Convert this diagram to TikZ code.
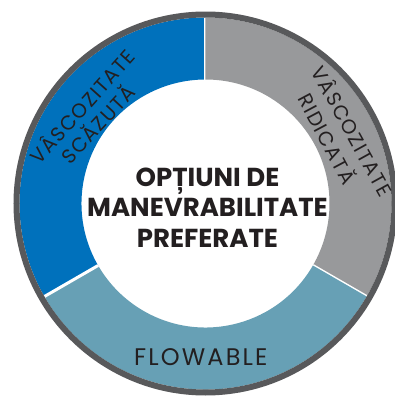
\documentclass[tikz,border=0pt]{standalone}
\usepackage{fontspec}
\setmainfont{Poppins}
\definecolor{lowblue}{RGB}{0,113,188}
\definecolor{highgray}{RGB}{152,153,155}
\definecolor{flowteal}{RGB}{103,160,181}
\definecolor{rimgray}{RGB}{88,89,91}
\definecolor{labelink}{RGB}{35,31,32}
\def\rin{124}
\def\rout{186}

\tikzset{
  ringlabel/.style={text=labelink, inner sep=0pt, anchor=base,
    font=\fontsize{20}{24}\selectfont\addfontfeature{LetterSpace=7}},
  flowtext/.style={ringlabel,
    font=\fontsize{24}{28}\selectfont\addfontfeature{LetterSpace=9}},
  titlelabel/.style={text=labelink, inner sep=0pt, align=center,
    font=\fontsize{26}{30.5}\selectfont\bfseries}
}

\begin{document}
\begin{tikzpicture}[x=1pt,y=1pt]
\useasboundingbox[fill=white] (-205.5,-193.5) rectangle (189.5,203.5);
% the three bands of the ring
\foreach \a/\b/\c in {90/210/lowblue, -30/90/highgray, 210/330/flowteal}
{
	\fill[\c] (\a:\rout) arc[start angle=\a, end angle=\b, radius=\rout]
		-- (\b:\rin) arc[start angle=\b, end angle=\a, radius=\rin] -- cycle;
	\draw[white, line width=3] (\a:\rin) -- (\a:\rout);
}
\draw[rimgray, line width=6] (0,0) circle[radius=189];
% labels
\node[ringlabel, rotate=48] (lowouter) at (142:149) {VÂSCOZITATE};
\node[ringlabel, rotate=47] (lowinner) at (144:126) {SCĂZUTĂ};
\node[ringlabel, rotate=-61] (highouter) at (26:156) {VÂSCOZITATE};
\node[ringlabel, rotate=-62] (highinner) at (28:130) {RIDICATĂ};
\node[flowtext] (flowlabel) at (-4.7,-161.5) {FLOWABLE};
\node[titlelabel] (title) at (2,-4) {OPȚIUNI DE\\MANEVRABILITATE\\PREFERATE};
\end{tikzpicture}
\end{document}
